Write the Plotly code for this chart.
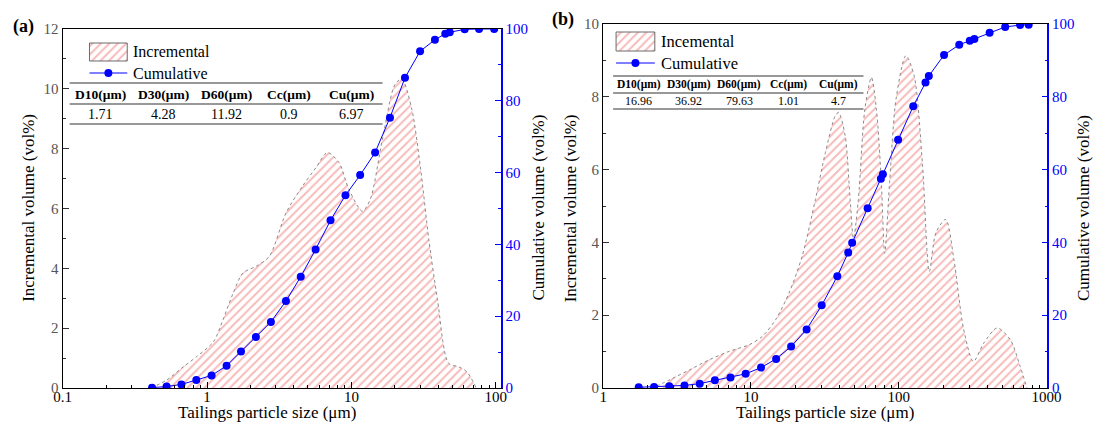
import plotly.graph_objects as go

W, H = 1105, 430
# page area actually used by the graph inside the window
OX, OY, PW, PH = 8, 8, W - 16, H - 16
FONT = "Liberation Serif"

# ---------------- panel (a) data ----------------
a_cum_size = [0.416, 0.525, 0.665, 0.843, 1.076, 1.366, 1.72, 2.18, 2.77, 3.52, 4.46, 5.65,
              7.17, 9.10, 11.5, 14.6, 18.5, 23.5, 29.9, 37.9, 44.7, 48.0, 60.9, 76.6, 97.5]
a_cum_vol = [0.1, 0.4, 1.0, 2.2, 3.5, 6.2, 10.2, 14.2, 18.4, 24.2, 31.0, 38.6,
             46.7, 53.7, 59.3, 65.6, 75.3, 86.4, 93.8, 97.0, 98.7, 99.1, 99.9, 100.0, 100.0]
a_inc_size = [0.41, 0.527, 0.686, 0.848, 1.11, 1.29, 1.52, 1.77, 2.19, 2.70, 3.53, 4.59, 5.67,
              6.83, 8.22, 9.61, 11.9, 13.5, 16.4, 20.1, 22.4, 26.2, 30.0, 34.4, 39.5, 47.1,
              55.2, 62.9, 73.3]
a_inc_vol = [0.0, 0.27, 0.71, 1.05, 1.55, 2.28, 3.18, 3.84, 4.07, 4.40, 5.86, 6.75, 7.36,
             7.87, 7.53, 6.64, 5.91, 6.30, 8.31, 10.16, 10.32, 9.32, 7.42, 4.96, 2.95, 0.83,
             0.71, 0.55, 0.0]
a_table_head = ["D10(μm)", "D30(μm)", "D60(μm)", "Cc(μm)", "Cu(μm)"]
a_table_vals = ["1.71", "4.28", "11.92", "0.9", "6.97"]

# ---------------- panel (b) data ----------------
b_cum_size = [1.74, 2.21, 2.80, 3.55, 4.50, 5.70, 7.27, 9.21, 11.7, 14.8, 18.7, 23.8, 30.1,
              38.4, 45.5, 48.4, 61.6, 75.7, 78.1, 99.0, 125.4, 151.7, 159.8, 202.5, 256.6,
              302.5, 325.0, 412.0, 525.0, 662.0, 757.0]
b_cum_vol = [0.2, 0.3, 0.5, 0.7, 1.2, 2.1, 2.9, 3.9, 5.6, 8.0, 11.4, 16.1, 22.7,
             30.7, 37.2, 39.9, 49.4, 57.5, 58.7, 68.2, 77.4, 83.9, 85.7, 91.5, 94.3,
             95.4, 95.9, 97.6, 99.2, 99.7, 99.8]
b_inc_size = [2.30, 2.83, 3.85, 5.25, 7.16, 9.75, 11.96, 14.7, 18.1, 22.2, 27.3, 31.9, 37.2,
              39.2, 43.4, 46.9, 49.4, 53.3, 59.0, 65.4, 70.6, 76.3, 80.3, 86.7, 95.9, 111.8,
              127.1, 145.0, 161.1, 178.5, 207.8, 236.2, 275.0, 320.0, 377.0, 463.0, 568.0,
              662.0, 736.0]
b_inc_vol = [0.05, 0.23, 0.50, 0.78, 1.01, 1.19, 1.42, 1.88, 2.61, 3.62, 5.18, 6.47, 7.48,
             7.57, 6.93, 5.18, 4.10, 5.18, 7.66, 8.53, 7.66, 5.64, 3.70, 5.64, 7.94, 9.13,
             8.58, 6.10, 3.20, 4.27, 4.63, 3.53, 1.61, 0.73, 1.24, 1.65, 1.33, 0.60, 0.0]
b_table_head = ["D10(μm)", "D30(μm)", "D60(μm)", "Cc(μm)", "Cu(μm)"]
b_table_vals = ["16.96", "36.92", "79.63", "1.01", "4.7"]


def fx(x):
    return (x - OX) / PW


def fy(y):
    return 1 - (y - OY) / PH


HATCH = dict(shape="/", fgcolor="#f07474", bgcolor="white", size=6, solidity=0.32)
BLUE = "#0000ff"
OUTLINE = dict(color="#8a8a8a", width=1, dash="dot", shape="spline", smoothing=0.8)

fig = go.Figure()

# incremental areas
fig.add_trace(go.Scatter(x=a_inc_size, y=a_inc_vol, mode="lines", fill="tozeroy",
                         fillpattern=HATCH, line=OUTLINE,
                         xaxis="x", yaxis="y", showlegend=False))
fig.add_trace(go.Scatter(x=b_inc_size, y=b_inc_vol, mode="lines", fill="tozeroy",
                         fillpattern=HATCH, line=OUTLINE,
                         xaxis="x2", yaxis="y3", showlegend=False))
# cumulative curves
fig.add_trace(go.Scatter(x=a_cum_size, y=a_cum_vol, mode="lines+markers",
                         line=dict(color=BLUE, width=1), marker=dict(color=BLUE, size=8),
                         xaxis="x", yaxis="y2", showlegend=False))
fig.add_trace(go.Scatter(x=b_cum_size, y=b_cum_vol, mode="lines+markers",
                         line=dict(color=BLUE, width=1), marker=dict(color=BLUE, size=8),
                         xaxis="x2", yaxis="y4", showlegend=False))

# legend keys drawn on a page-pixel overlay
LEG = [  # patch x0, x1, y0, y1, line y
    (89, 127, 43, 61, 73),
    (619, 658, 32, 51, 63),
]
for x0, x1, y0, y1, ly in LEG:
    fig.add_trace(go.Scatter(x=[x0, x1, x1, x0, x0], y=[y0, y0, y1, y1, y0], mode="lines",
                             fill="toself", fillpattern=HATCH,
                             line=dict(color="#6a6a6a", width=1),
                             xaxis="x5", yaxis="y5", showlegend=False))
    fig.add_trace(go.Scatter(x=[x0, (x0 + x1) / 2, x1], y=[ly, ly, ly], mode="lines",
                             line=dict(color=BLUE, width=1),
                             xaxis="x5", yaxis="y5", showlegend=False))
    fig.add_trace(go.Scatter(x=[(x0 + x1) / 2], y=[ly], mode="markers",
                             marker=dict(color=BLUE, size=8),
                             xaxis="x5", yaxis="y5", showlegend=False))


def minor_log(lo, hi):
    vals = []
    d = lo
    while d < hi:
        vals += [k * d for k in range(2, 10)]
        d *= 10
    return vals


tickfont_x = dict(family=FONT, size=15, color="black")
tickfont_l = dict(family=FONT, size=15, color="#555555")
tickfont_r = dict(family=FONT, size=15, color=BLUE)

common_x = dict(type="log", showline=True, linecolor="black", linewidth=1.2, mirror=True,
                ticks="inside", ticklen=6, tickcolor="black", showgrid=False, zeroline=False,
                tickfont=tickfont_x, ticklabelstandoff=-5)
common_yl = dict(showline=True, linecolor="black", linewidth=1.2, ticks="inside", ticklen=6,
                 tickcolor="#333333", showgrid=False, zeroline=False, tickfont=tickfont_l,
                 minor=dict(ticks="inside", ticklen=3, tickcolor="#333333", dtick=1))
common_yr = dict(showline=True, linecolor=BLUE, linewidth=1.5, ticks="inside", ticklen=6,
                 tickcolor=BLUE, showgrid=False, zeroline=False, tickfont=tickfont_r,
                 side="right", range=[0, 100], tickvals=[0, 20, 40, 60, 80, 100],
                 minor=dict(ticks="inside", ticklen=3, tickcolor=BLUE,
                            tickvals=[10, 30, 50, 70, 90]))

fig.update_layout(
    width=W, height=H, margin=dict(l=0, r=0, t=0, b=0),
    paper_bgcolor="white", plot_bgcolor="rgba(0,0,0,0)",
    font=dict(family=FONT, color="black"),
    xaxis=dict(common_x, domain=[fx(62), fx(503)], range=[-1, 2.035], anchor="y",
               tickvals=[0.1, 1, 10, 100], ticktext=["0.1", "1", "10", "100"],
               minor=dict(ticks="inside", ticklen=3, tickcolor="black",
                          tickvals=minor_log(0.1, 100))),
    yaxis=dict(common_yl, domain=[fy(388), fy(29)], range=[0, 12], anchor="x",
               tickvals=[0, 2, 4, 6, 8, 10, 12]),
    yaxis2=dict(common_yr, overlaying="y", anchor="x"),
    xaxis2=dict(common_x, domain=[fx(606), fx(1053)], range=[0, 3.005], anchor="y3",
                tickvals=[1, 10, 100, 1000], ticktext=["1", "10", "100", "1000"],
                minor=dict(ticks="inside", ticklen=3, tickcolor="black",
                           tickvals=minor_log(1, 1000))),
    yaxis3=dict(common_yl, domain=[fy(388), fy(24)], range=[0, 10], anchor="x2",
                tickvals=[0, 2, 4, 6, 8, 10]),
    yaxis4=dict(common_yr, overlaying="y3", anchor="x2"),
    xaxis5=dict(domain=[0, 1], range=[OX, OX + PW], visible=False, anchor="y5", fixedrange=True),
    yaxis5=dict(domain=[0, 1], range=[OY + PH, OY], visible=False, anchor="x5", fixedrange=True),
)

ann = []


def text(x, y, s, size, bold=False, color="black", angle=0, xanchor="center"):
    ann.append(dict(x=fx(x), y=fy(y), xref="paper", yref="paper",
                    text=f"<b>{s}</b>" if bold else s,
                    showarrow=False, font=dict(family=FONT, size=size, color=color),
                    textangle=angle, xanchor=xanchor, yanchor="middle"))


# panel labels
text(23, 27, "(a)", 18, bold=True)
text(566, 19, "(b)", 18, bold=True)
# axis titles
text(268, 412, "Tailings particle size (μm)", 17)
text(829, 412, "Tailings particle size (μm)", 17)
text(28, 208, "Incremental volume (vol%)", 17, angle=-90)
text(574, 208, "Incremental volume (vol%)", 17, angle=-90)
text(541, 208, "Cumulative volume (vol%)", 17, angle=-90)
text(1090, 208, "Cumulative volume (vol%)", 17, angle=-90)
# legend labels
text(131, 51, "Incremental", 16, xanchor="left")
text(131, 73, "Cumulative", 16, xanchor="left")
text(662, 41, "Incemental", 16.5, xanchor="left")
text(662, 63, "Cumulative", 16.5, xanchor="left")

shapes = []


def hline(x0, x1, y, w=1.2):
    shapes.append(dict(type="line", xref="paper", yref="paper", x0=fx(x0), x1=fx(x1),
                       y0=fy(y), y1=fy(y), line=dict(color="#333333", width=w)))


# tables of characteristic sizes
TABLES = [
    (a_table_head, a_table_vals, [100, 163, 227, 290, 353], 69, 384, (83, 104, 124), 94, 114, 13.5, 14),
    (b_table_head, b_table_vals, [642, 692, 743, 793, 843], 616, 868, (76, 93, 109), 85, 101, 11.5, 12),
]
for head, vals, cols, x0, x1, lines, hy, vy, hs, vs in TABLES:
    for yy in lines:
        hline(x0, x1, yy)
    for cx, h, v in zip(cols, head, vals):
        text(cx, hy, h, hs, bold=True)
        text(cx, vy, v, vs)

fig.update_layout(annotations=ann, shapes=shapes)
fig.write_html("out.html")
